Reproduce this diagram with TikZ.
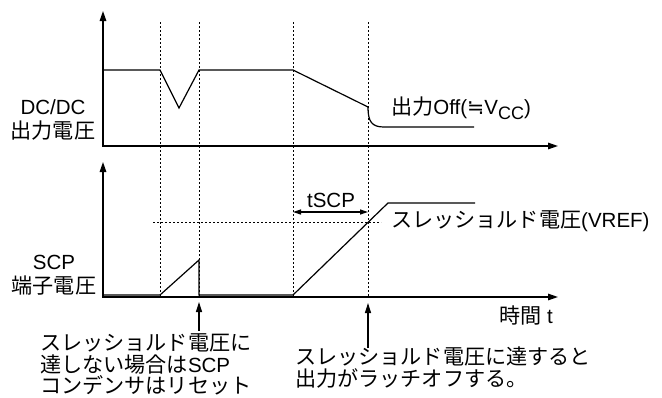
\documentclass[tikz,border=0pt]{standalone}
\usepackage{fontspec}
\setmainfont{Liberation Sans}
\newfontfamily\jp[Scale=1.03]{Noto Sans CJK JP}
\newfontfamily\symfont{DejaVu Sans}
\usetikzlibrary{arrows.meta}
\begin{document}
\begin{tikzpicture}[x=1pt,y=-1pt,
  every node/.style={font=\fontsize{20.5}{24}\selectfont, inner sep=0pt},
  axis/.style={line width=1.4pt, {Triangle[length=10pt,width=6.5pt]}-{Triangle[length=10pt,width=6.5pt]}},
  sig/.style={line width=1.2pt, line join=miter},
  guide/.style={line width=0.9pt, dash pattern=on 2pt off 2pt},
  pointer/.style={line width=1.2pt, -{Triangle[length=10pt,width=6pt]}},
  span/.style={line width=1.2pt, {Triangle[length=8pt,width=5pt]}-{Triangle[length=8pt,width=5pt]}}
]
\useasboundingbox (0,0) rectangle (662,397);

% axes
\coordinate (y1) at (103,11);
\coordinate (o1) at (103,146);
\coordinate (x1) at (558,146);
\coordinate (y2) at (103,162);
\coordinate (o2) at (103,297);
\coordinate (x2) at (558,297);
\draw[axis] (y1) -- (o1) -- (x1);
\draw[axis] (y2) -- (o2) -- (x2);

% dotted time markers
\foreach \n/\x in {a/160,b/199,c/293,d/368}{
  \coordinate (g\n t) at (\x,22);
  \coordinate (g\n b) at (\x,297);
  \draw[guide] (g\n t) -- (g\n b);
}
% threshold
\coordinate (th1) at (153,222);
\coordinate (th2) at (381,222);
\draw[guide] (th1) -- (th2);

% DC/DC output voltage
\draw[sig] (103,70) -- (160,70) -- (179,108) -- (199,70) -- (293,70) -- (368,107)
  .. controls (368,122) and (372,127) .. (384,127) -- (474,127);

% SCP terminal voltage
\draw[sig] (103,295) -- (160,295) -- (199,260) -- (199,295) -- (293,295) -- (388,203) -- (475,203);

% tSCP span
\coordinate (s1) at (293,212);
\coordinate (s2) at (368,212);
\draw[span] (s1) -- (s2);
\node (tscp) at (331,200) {tSCP};

% pointers
\coordinate (p1s) at (199,331);
\coordinate (p1e) at (199,302);
\coordinate (p2s) at (368,348);
\coordinate (p2e) at (368,303);
\draw[pointer] (p1s) -- (p1e);
\draw[pointer] (p2s) -- (p2e);

% labels
\node (dcdc) at (53,107) {DC/DC};
\node (dcdc2) at (53,131) {\jp 出力電圧};
\node (scp) at (54,262) {SCP};
\node (scp2) at (54,286) {\jp 端子電圧};
\node[anchor=west] (off) at (391,108) {{\jp 出力}Off({\symfont ≒}V\raisebox{-5pt}{\fontsize{18}{18}\selectfont CC})};
\node[anchor=west] (vref) at (391,221) {{\jp スレッショルド電圧}(VREF)};
\node[anchor=east] (time) at (553,315) {{\jp 時間} t};
\node[anchor=west] (bl1) at (40,343) {\jp スレッショルド電圧に};
\node[anchor=west] (bl2) at (40,364.5) {{\jp 達しない場合は}SCP};
\node[anchor=west] (bl3) at (40,385.5) {\jp コンデンサはリセット};
\node[anchor=west] (br1) at (295,356) {\jp スレッショルド電圧に達すると};
\node[anchor=west] (br2) at (295,378) {\jp 出力がラッチオフする。};
\end{tikzpicture}
\end{document}
